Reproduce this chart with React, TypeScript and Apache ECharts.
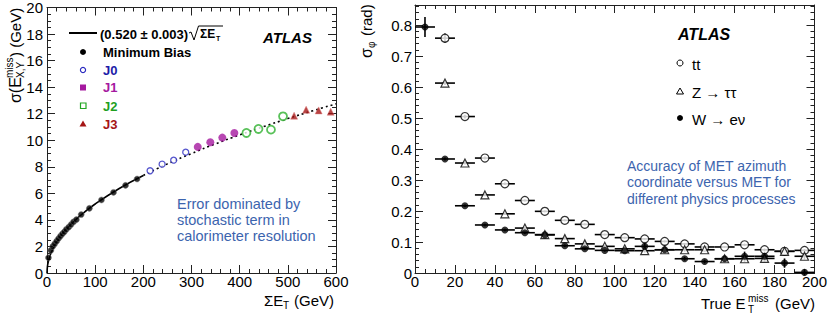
import React, { useEffect, useRef } from "react";
import * as echarts from "echarts";

// ---------- Left panel data ----------
const mbSumEt = [3, 8, 12, 16, 20, 24, 28, 32, 36, 40, 45, 50, 55, 61, 71, 88, 113, 138, 163, 187];
const mbSigma = [1.15, 1.7, 2.0, 2.2, 2.4, 2.6, 2.78, 2.95, 3.1, 3.28, 3.45, 3.65, 3.85, 4.02, 4.4, 4.87, 5.5, 6.07, 6.6, 7.08];
const j0SumEt = [214, 239, 263, 288];
const j0Sigma = [7.7, 8.2, 8.5, 9.1];
const j1SumEt = [313, 339, 364, 389];
const j1Sigma = [9.5, 9.85, 10.2, 10.55];
const j2SumEt = [414, 439, 465, 490];
const j2Sigma = [10.55, 10.85, 10.8, 11.8];
const j3SumEt = [513, 538, 564, 589];
const j3Sigma = [11.85, 12.3, 12.25, 12.15];
const fitSolidX = [0, 1, 3, 6, 10, 20, 40, 70, 100, 150, 200];
const fitSolidY = [0, 0.52, 0.9, 1.27, 1.64, 2.33, 3.29, 4.35, 5.2, 6.37, 7.35];
const fitDotX = [200, 250, 300, 350, 400, 450, 500, 550, 600];
const fitDotY = [7.35, 8.22, 9.0, 9.73, 10.4, 11.03, 11.63, 12.2, 12.74];
const leftXTicks = [0, 100, 200, 300, 400, 500, 600];
const leftYTicks = [0, 2, 4, 6, 8, 10, 12, 14, 16, 18, 20];

// ---------- Right panel data ----------
const binCenters = [5, 15, 25, 35, 45, 55, 65, 75, 85, 95, 105, 115, 125, 135, 145, 155, 165, 175, 185, 195];
const ttSigma = [null, 0.758, 0.505, 0.371, 0.288, 0.234, 0.199, 0.17, 0.157, 0.124, 0.114, 0.11, 0.102, 0.094, 0.084, 0.084, 0.091, 0.075, 0.07, 0.073];
const ttErr = [0, 0.015, 0.006, 0.005, 0.004, 0.003, 0.003, 0.003, 0.003, 0.003, 0.003, 0.003, 0.003, 0.003, 0.003, 0.003, 0.004, 0.004, 0.004, 0.004];
const zttSigma = [null, 0.613, 0.355, 0.252, 0.191, 0.145, 0.124, 0.111, 0.094, 0.086, 0.078, 0.072, 0.075, 0.075, 0.075, 0.046, 0.046, 0.047, 0.07, 0.054];
const zttErr = [0, 0.006, 0.005, 0.004, 0.004, 0.004, 0.004, 0.004, 0.004, 0.004, 0.004, 0.006, 0.005, 0.006, 0.006, 0.008, 0.01, 0.01, 0.01, 0.01];
const wenSigma = [0.794, 0.368, 0.217, 0.155, 0.139, 0.13, 0.123, 0.088, 0.078, 0.073, 0.072, 0.086, 0.075, 0.046, 0.037, 0.046, 0.054, 0.054, 0.032, 0.002];
const wenErr = [0.032, 0.005, 0.004, 0.004, 0.004, 0.004, 0.005, 0.004, 0.004, 0.004, 0.004, 0.015, 0.006, 0.006, 0.006, 0.01, 0.015, 0.015, 0.015, 0.01];
const binHalfWidth = 5;

const FONT = "Liberation Sans, Arial, Helvetica, sans-serif";
const BLUE_TXT = "#3c64ae";

function pairs(xs: number[], ys: (number | null)[]) {
  const out: number[][] = [];
  xs.forEach((x, i) => {
    if (ys[i] !== null && ys[i] !== undefined) out.push([x, ys[i] as number]);
  });
  return out;
}
function triples(xs: number[], ys: (number | null)[], es: number[]) {
  const out: number[][] = [];
  xs.forEach((x, i) => {
    if (ys[i] !== null && ys[i] !== undefined) out.push([x, ys[i] as number, es[i]]);
  });
  return out;
}

function axisBase(extra: any) {
  return {
    type: "value",
    axisLine: { show: true, onZero: false, lineStyle: { color: "#222", width: 1 } },
    axisTick: { show: true, inside: true, length: 8, lineStyle: { color: "#222" } },
    minorTick: { show: true, length: 4, lineStyle: { color: "#222" } },
    splitLine: { show: false },
    minorSplitLine: { show: false },
    axisLabel: { color: "#000", fontSize: 15, fontFamily: FONT },
    ...extra,
  };
}

function errRender(params: any, api: any) {
  const x = api.value(0);
  const y = api.value(1);
  const ey = api.value(2);
  const a = api.coord([x - binHalfWidth, y]);
  const b = api.coord([x + binHalfWidth, y]);
  const children: any[] = [
    { type: "line", shape: { x1: a[0], y1: a[1], x2: b[0], y2: b[1] }, style: { stroke: "#000", lineWidth: 1.6 } },
  ];
  if (ey > 0) {
    const c = api.coord([x, y - ey]);
    const d = api.coord([x, y + ey]);
    children.push({ type: "line", shape: { x1: c[0], y1: c[1], x2: d[0], y2: d[1] }, style: { stroke: "#000", lineWidth: 1.6 } });
  }
  return { type: "group", children };
}

function txt(x: number, y: number, text: string, font: string, fill = "#000", align = "left") {
  return {
    type: "text",
    x,
    y,
    style: { text, font, fill, textAlign: align, textVerticalAlign: "middle" },
  };
}

export default function App() {
  const ref = useRef<HTMLDivElement>(null);
  useEffect(() => {
    if (!ref.current) return;
    const chart = echarts.init(ref.current, null, { renderer: "svg" });
    const f15 = `15px ${FONT}`;
    const f10 = `10px ${FONT}`;
    const b13 = `bold 13px ${FONT}`;
    const ann = `14.5px ${FONT}`;

    const graphic: any[] = [
      // Left y title (rotated)
      {
        type: "group",
        x: 15,
        y: 103,
        rotation: Math.PI / 2,
        children: [
          txt(0, 0, "σ(E", `16px ${FONT}`),
          txt(25, -6, "miss", f10),
          txt(25, 5, "X,Y", f10),
          txt(46, 0, ") (GeV)", f15),
        ],
      },
      // Right y title (rotated)
      {
        type: "group",
        x: 366,
        y: 58,
        rotation: Math.PI / 2,
        children: [txt(0, 0, "σ", `16px ${FONT}`), txt(10, 5, "φ", f10), txt(22, 0, "(rad)", f15)],
      },
      // Left x title
      txt(264, 300, "ΣE", f15),
      txt(283, 305, "T", f10),
      txt(294, 300, "(GeV)", f15),
      // Right x title
      txt(701, 303, "True E", f15),
      txt(748, 298, "miss", f10),
      txt(748, 309, "T", f10),
      txt(775, 303, "(GeV)", f15),
      // Left legend
      { type: "line", shape: { x1: 69, y1: 33, x2: 97, y2: 33 }, style: { stroke: "#000", lineWidth: 2 } },
      txt(100, 34, "(0.520 ± 0.003)", b13),
      { type: "polyline", shape: { points: [[189, 33], [191, 32], [194, 40], [198.5, 26], [223, 26]] }, style: { stroke: "#000", lineWidth: 1, fill: null } },
      txt(200, 34, "ΣE", `bold 12px ${FONT}`),
      txt(216, 38, "T", `bold 7px ${FONT}`),
      txt(263, 37, "ATLAS", `italic bold 15px ${FONT}`),
      { type: "circle", shape: { cx: 83, cy: 52, r: 3 }, style: { fill: "#000" } },
      txt(103, 52, "Minimum Bias", b13),
      { type: "circle", shape: { cx: 83, cy: 70, r: 2.6 }, style: { fill: "#fff", stroke: "#2a2ac0", lineWidth: 1.2 } },
      txt(103, 70, "J0", b13, "#1c1ca8"),
      { type: "rect", shape: { x: 80, y: 84.5, width: 6, height: 6 }, style: { fill: "#a5199f" } },
      txt(103, 87, "J1", b13, "#a5199f"),
      { type: "rect", shape: { x: 80.5, y: 103, width: 5.5, height: 5.5 }, style: { fill: "#fff", stroke: "#22a622", lineWidth: 1.2 } },
      txt(103, 106, "J2", b13, "#1f9f1f"),
      { type: "polygon", shape: { points: [[83, 120.5], [86.5, 126.5], [79.5, 126.5]] }, style: { fill: "#a51515" } },
      txt(103, 124, "J3", b13, "#a51515"),
      // Left annotation
      txt(177, 204, "Error dominated by", ann, BLUE_TXT),
      txt(177, 220, "stochastic term in", ann, BLUE_TXT),
      txt(177, 236, "calorimeter resolution", ann, BLUE_TXT),
      // Right legend
      txt(678, 34, "ATLAS", `italic bold 16px ${FONT}`),
      { type: "circle", shape: { cx: 680, cy: 63, r: 3 }, style: { fill: "#fff", stroke: "#000", lineWidth: 1 } },
      txt(692, 64, "tt", f15),
      { type: "polygon", shape: { points: [[680, 88], [683.5, 94], [676.5, 94]] }, style: { fill: "#fff", stroke: "#000", lineWidth: 1 } },
      txt(692, 92, "Z → ττ", f15),
      { type: "circle", shape: { cx: 680, cy: 118, r: 3 }, style: { fill: "#000" } },
      txt(692, 119, "W → eν", f15),
      // Right annotation
      txt(627, 166, "Accuracy of MET azimuth", `14px ${FONT}`, BLUE_TXT),
      txt(627, 182, "coordinate versus MET for", `14px ${FONT}`, BLUE_TXT),
      txt(627, 199, "different physics processes", `14px ${FONT}`, BLUE_TXT),
    ];

    const rightYFormatter = (v: number) => {
      if (Math.abs(v) < 1e-9) return "0";
      return Math.abs(v * 10 - Math.round(v * 10)) < 1e-6 ? v.toFixed(1) : "";
    };

    const xLabel = { color: "#000", fontSize: 15, fontFamily: FONT, margin: 1 };

    const option: any = {
      animation: false,
      backgroundColor: "#fff",
      grid: [
        { left: 47, top: 7, width: 289, height: 266 },
        { left: 415, top: 5, width: 400, height: 268 },
      ],
      xAxis: [
        axisBase({ gridIndex: 0, position: "bottom", min: leftXTicks[0], max: leftXTicks[leftXTicks.length - 1], interval: 100, minorTick: { show: true, splitNumber: 5, length: 4, lineStyle: { color: "#222" } }, axisLabel: xLabel }),
        axisBase({ gridIndex: 0, position: "top", min: 0, max: 600, interval: 100, minorTick: { show: true, splitNumber: 5, length: 4, lineStyle: { color: "#222" } }, axisLabel: { show: false } }),
        axisBase({ gridIndex: 1, position: "bottom", min: 0, max: 200, interval: 20, minorTick: { show: true, splitNumber: 4, length: 4, lineStyle: { color: "#222" } }, axisLabel: xLabel }),
        axisBase({ gridIndex: 1, position: "top", min: 0, max: 200, interval: 20, minorTick: { show: true, splitNumber: 4, length: 4, lineStyle: { color: "#222" } }, axisLabel: { show: false } }),
      ],
      yAxis: [
        axisBase({ gridIndex: 0, position: "left", min: leftYTicks[0], max: leftYTicks[leftYTicks.length - 1], interval: 2, minorTick: { show: true, splitNumber: 4, length: 4, lineStyle: { color: "#222" } }, axisLabel: { color: "#000", fontSize: 15, fontFamily: FONT, margin: 4 } }),
        axisBase({ gridIndex: 0, position: "right", min: 0, max: 20, interval: 2, minorTick: { show: true, splitNumber: 4, length: 4, lineStyle: { color: "#222" } }, axisLabel: { show: false } }),
        axisBase({ gridIndex: 1, position: "left", min: 0, max: 0.865, interval: 0.1, minorTick: { show: true, splitNumber: 5, length: 4, lineStyle: { color: "#222" } }, axisLabel: { color: "#000", fontSize: 15, fontFamily: FONT, margin: 3, showMaxLabel: false, formatter: rightYFormatter } }),
        axisBase({ gridIndex: 1, position: "right", min: 0, max: 0.865, interval: 0.1, minorTick: { show: true, splitNumber: 5, length: 4, lineStyle: { color: "#222" } }, axisLabel: { show: false } }),
      ],
      series: [
        {
          type: "line", xAxisIndex: 0, yAxisIndex: 0, data: pairs(fitSolidX, fitSolidY), smooth: true, symbol: "none",
          lineStyle: { color: "#000", width: 1.6 }, z: 2,
        },
        {
          type: "line", xAxisIndex: 0, yAxisIndex: 0, data: pairs(fitDotX, fitDotY), smooth: true, symbol: "none",
          lineStyle: { color: "#000", width: 1.6, type: [2, 3] }, z: 2,
        },
        {
          type: "scatter", xAxisIndex: 0, yAxisIndex: 0, data: pairs(mbSumEt, mbSigma), symbol: "circle", symbolSize: 6,
          itemStyle: { color: "#000", borderColor: "rgba(120,120,120,0.6)", borderWidth: 1 }, z: 3,
        },
        {
          type: "scatter", xAxisIndex: 0, yAxisIndex: 0, data: pairs(j0SumEt, j0Sigma), symbol: "circle", symbolSize: 6,
          itemStyle: { color: "#fff", borderColor: "#2a2ac0", borderWidth: 1.3 }, z: 3,
        },
        {
          type: "scatter", xAxisIndex: 0, yAxisIndex: 0, data: pairs(j1SumEt, j1Sigma), symbol: "circle", symbolSize: 8,
          itemStyle: { color: "#a5199f" }, z: 3,
        },
        {
          type: "scatter", xAxisIndex: 0, yAxisIndex: 0, data: pairs(j2SumEt, j2Sigma), symbol: "circle", symbolSize: 8,
          itemStyle: { color: "#fff", borderColor: "#2fb22f", borderWidth: 1.8 }, z: 3,
        },
        {
          type: "scatter", xAxisIndex: 0, yAxisIndex: 0, data: pairs(j3SumEt, j3Sigma), symbol: "triangle", symbolSize: 7,
          itemStyle: { color: "#a51515", borderColor: "rgba(220,120,120,0.6)", borderWidth: 1 }, z: 3,
        },
        // Right panel error bars
        { type: "custom", xAxisIndex: 2, yAxisIndex: 2, data: triples(binCenters, ttSigma, ttErr), renderItem: errRender, z: 2 },
        { type: "custom", xAxisIndex: 2, yAxisIndex: 2, data: triples(binCenters, zttSigma, zttErr), renderItem: errRender, z: 2 },
        { type: "custom", xAxisIndex: 2, yAxisIndex: 2, data: triples(binCenters, wenSigma, wenErr), renderItem: errRender, z: 2 },
        {
          type: "scatter", xAxisIndex: 2, yAxisIndex: 2, data: pairs(binCenters, ttSigma), symbol: "circle", symbolSize: 8,
          itemStyle: { color: "#fff", borderColor: "#000", borderWidth: 1.2 }, z: 4,
        },
        {
          type: "scatter", xAxisIndex: 2, yAxisIndex: 2, data: pairs(binCenters, zttSigma), symbol: "triangle", symbolSize: 8,
          itemStyle: { color: "#fff", borderColor: "#000", borderWidth: 1.2 }, z: 4,
        },
        {
          type: "scatter", xAxisIndex: 2, yAxisIndex: 2, data: pairs(binCenters, wenSigma), symbol: "circle", symbolSize: 7,
          itemStyle: { color: "#000" }, z: 5,
        },
      ],
      graphic,
    };
    chart.setOption(option);
    return () => chart.dispose();
  }, []);
  return <div ref={ref} style={{ position: "absolute", left: 0, top: 0, width: 830, height: 313, background: "#fff" }} />;
}
